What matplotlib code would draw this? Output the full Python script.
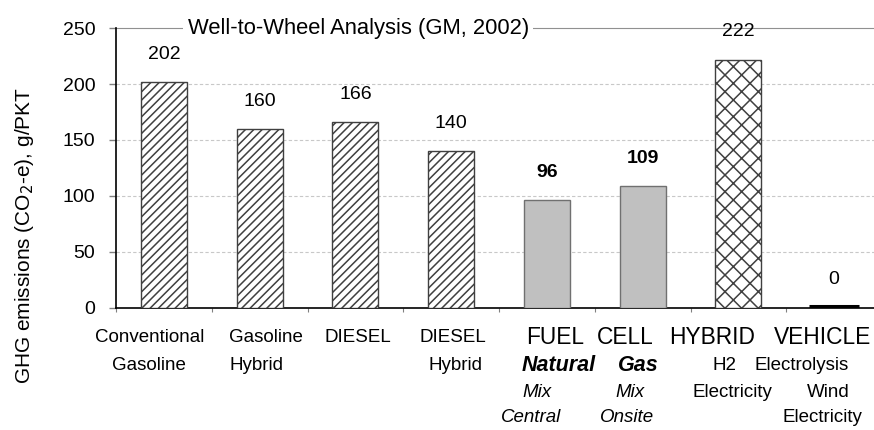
import numpy as np
import matplotlib
matplotlib.use('Agg')
import matplotlib.pyplot as plt
import matplotlib.transforms as mtrans

plt.rcParams['font.family'] = ['Liberation Sans', 'DejaVu Sans']
plt.rcParams['hatch.linewidth'] = 1.1
plt.rcParams['hatch.color'] = '#303030'

# values
values = [202, 160, 166, 140, 96, 109, 222, 0]
value_bold = [False, False, False, False, True, True, False, False]
styles = ['diag', 'diag', 'diag', 'diag', 'grey', 'grey', 'cross', 'black']

# category label lines: x (category units), row, text, style
labels_x = [-0.145, -0.16, 1.067, 0.97, 2.03, 3.02, 3.05,
            4.085, 4.82, 5.73, 6.88,
            4.12, 4.95, 5.86, 6.66,
            3.90, 4.87, 5.94, 6.94,
            3.84, 4.84, 6.88]
labels_row = [0, 1, 0, 1, 0, 0, 1,
              0, 0, 0, 0,
              1, 1, 1, 1,
              2, 2, 2, 2,
              3, 3, 3]
labels_text = ['Conventional', 'Gasoline', 'Gasoline', 'Hybrid', 'DIESEL', 'DIESEL', 'Hybrid',
               'FUEL', 'CELL', 'HYBRID', 'VEHICLE',
               'Natural', 'Gas', 'H2', 'Electrolysis',
               'Mix', 'Mix', 'Electricity', 'Wind',
               'Central', 'Onsite', 'Electricity']
labels_style = ['normal'] * 7 + ['big'] * 4 + ['bolditalic', 'bolditalic', 'normal', 'normal',
                                              'italic', 'italic', 'normal', 'normal',
                                              'italic', 'italic', 'normal']

fig = plt.figure(figsize=(8.74, 4.30), dpi=100)
ax = fig.add_axes([116 / 874, 1 - 307.7 / 430, 766 / 874, 279.5 / 430])

x = np.arange(len(values))
for xi, v, s in zip(x, values, styles):
    if s == 'diag':
        ax.bar(xi, v, width=0.48, color='white', edgecolor='#404040', hatch='////', linewidth=1.0, zorder=3)
    elif s == 'grey':
        ax.bar(xi, v, width=0.48, color='#c0c0c0', edgecolor='#707070', linewidth=1.0, zorder=3)
    elif s == 'cross':
        ax.bar(xi, v, width=0.48, color='white', edgecolor='#404040', hatch='xx', linewidth=1.0, zorder=3)
    else:
        # zero-height bar: a thick black stroke sitting on the axis
        ax.plot([xi - 0.26, xi + 0.26], [v, v], color='black', lw=2.2,
                solid_capstyle='butt', zorder=4, clip_on=False,
                transform=ax.transData + mtrans.ScaledTranslation(0, 1.2 / 72, fig.dpi_scale_trans))

for xi, v, b in zip(x, values, value_bold):
    ax.annotate(str(v), (xi, v), xytext=(0, 20), textcoords='offset points',
                ha='center', va='center', fontsize=14,
                fontweight='bold' if b else 'normal')

ax.set_xlim(-0.5, len(values) - 0.5)
ax.set_ylim(0, 250)
ax.set_yticks([0, 50, 100, 150, 200, 250])
ax.tick_params(axis='y', labelsize=14, length=5, pad=10, direction='out', color='#808080', width=1)
ax.set_xticks(np.arange(len(values) + 1) - 0.5)
ax.set_xticklabels([])
ax.tick_params(axis='x', length=3, direction='out', color='#808080')

for g in [50, 100, 150, 200]:
    ax.axhline(g, color='#c8c8c8', lw=0.8, ls=(0, (3, 2)), zorder=1)
ax.axhline(250, color='#909090', lw=0.8, zorder=1, clip_on=False)

for side in ['top', 'right']:
    ax.spines[side].set_visible(False)
ax.spines['left'].set_linewidth(1.2)
ax.spines['bottom'].set_linewidth(1.2)

ax.text(2.03, 250, 'Well-to-Wheel Analysis (GM, 2002)', ha='center', va='center',
        fontsize=15.8, zorder=5,
        bbox=dict(facecolor='white', edgecolor='none', pad=3))

trans = mtrans.blended_transform_factory(ax.transData, ax.transAxes)
row_offsets = [-21.8, -41.3, -60.7, -79.4]
for lx, r, t, st in zip(labels_x, labels_row, labels_text, labels_style):
    kw = dict(fontsize=13.5)
    if st == 'bolditalic':
        kw.update(fontweight='bold', fontstyle='italic', fontsize=15.5)
    elif st == 'italic':
        kw.update(fontstyle='italic')
    elif st == 'big':
        kw.update(fontsize=16.4)
    ax.annotate(t, (lx, 0), xycoords=trans, xytext=(0, row_offsets[r]),
                textcoords='offset points', ha='center', va='center',
                annotation_clip=False, **kw)

fig.text(25 / 874, 1 - 236 / 430, 'GHG emissions (CO$_2$-e), g/PKT', rotation=90,
         ha='center', va='center', fontsize=15)

fig.savefig('out.png', dpi=100)
